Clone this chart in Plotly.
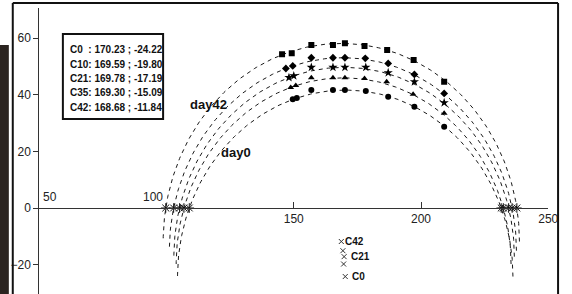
import numpy as np
import plotly.graph_objects as go

W, H = 572, 294

# ---- data ----
series_names = ["C0", "C10", "C21", "C35", "C42"]
center_x = [170.23, 169.59, 169.78, 169.30, 168.68]
center_y = [-24.22, -19.80, -17.19, -15.09, -11.84]
radius = [65.9, 65.8, 66.9, 68.2, 70.0]
symbols = ["circle", "triangle-up", "star", "diamond", "square"]

c0_x = [149.6, 151.2, 156.9, 165.4, 170.1, 178.3, 187.1, 197.4, 209.1]
c0_y = [38.4, 38.9, 41.7, 41.7, 41.7, 41.3, 39.3, 35.8, 28.7]
c10_x = [148.8, 150.8, 156.9, 165.4, 170.1, 177.8, 186.5, 196.9, 209.1]
c10_y = [42.6, 43.3, 46.0, 46.0, 46.0, 45.8, 44.6, 40.2, 33.5]
c21_x = [148.1, 150.0, 156.9, 165.4, 170.1, 178.3, 187.1, 197.4, 209.1]
c21_y = [46.1, 46.7, 49.7, 49.7, 49.7, 49.7, 47.8, 44.6, 37.2]
c35_x = [146.9, 149.6, 156.9, 165.4, 170.1, 178.1, 187.1, 197.4, 209.1]
c35_y = [49.3, 50.2, 53.1, 53.1, 53.1, 52.9, 51.1, 47.2, 40.5]
c42_x = [145.4, 149.2, 156.9, 165.4, 170.1, 177.8, 186.7, 197.1, 209.1]
c42_y = [54.3, 54.7, 57.6, 57.6, 58.2, 57.2, 55.8, 52.3, 44.6]

points_x = [c0_x, c10_x, c21_x, c35_x, c42_x]
points_y = [c0_y, c10_y, c21_y, c35_y, c42_y]

legend_lines = [
    "C0\u00a0\u00a0: 170.23 ; -24.22",
    "C10: 169.59 ; -19.80",
    "C21: 169.78 ; -17.19",
    "C35: 169.30 ; -15.09",
    "C42: 168.68 ; -11.84",
]
center_labels = {"C42": 4, "C21": 2, "C0": 0}

x_ticks = [150, 200, 250]
x_ticks_above = [50, 100]
y_ticks = [-20, 0, 20, 40, 60]

# ---- layout geometry (pixels) ----
x_dom = [40 / W, 558 / W]
x_rng = [50, 250]
y_top_px = 8
y_dom = [0, (H - y_top_px) / H]
px_per_y = 2.83
y_rng = [-(H - 208) / px_per_y, (208 - y_top_px) / px_per_y]
x_axis_pos = y_dom[1] * (0 - y_rng[0]) / (y_rng[1] - y_rng[0])

SANS = "Liberation Sans"


def px(x):
    return x / W


def py(y):
    return 1 - y / H


fig = go.Figure()

# fitted semicircles
for i, name in enumerate(series_names):
    th = np.linspace(0, np.pi, 241)
    fig.add_trace(go.Scatter(
        x=center_x[i] + radius[i] * np.cos(th),
        y=center_y[i] + radius[i] * np.sin(th),
        mode="lines",
        line=dict(color="#1a1a1a", width=1, dash="4px,4px"),
        hoverinfo="skip", showlegend=False))

# measured points
marker_sizes = {"circle": 6, "triangle-up": 6, "star": 7, "diamond": 6, "square": 6}
for i, name in enumerate(series_names):
    fig.add_trace(go.Scatter(
        x=points_x[i], y=points_y[i], mode="markers", name=name,
        marker=dict(symbol=symbols[i], size=marker_sizes[symbols[i]], color="#000"),
        showlegend=False))

# axis crossings of each circle
cross_x, cross_y = [], []
for i in range(len(series_names)):
    d = np.sqrt(radius[i] ** 2 - center_y[i] ** 2)
    cross_x += [center_x[i] - d, center_x[i] + d]
    cross_y += [0, 0]
fig.add_trace(go.Scatter(
    x=cross_x, y=cross_y, mode="markers",
    marker=dict(symbol="asterisk-open", size=8, color="#111",
                line=dict(width=1, color="#111")),
    showlegend=False, hoverinfo="skip"))

# centres
fig.add_trace(go.Scatter(
    x=center_x, y=center_y, mode="markers",
    marker=dict(symbol="x-thin", size=5, color="#333",
                line=dict(width=1, color="#333")),
    showlegend=False))

annotations = []
for lab, idx in center_labels.items():
    annotations.append(dict(
        x=center_x[idx], y=center_y[idx], xref="x", yref="y",
        text="<b>" + lab + "</b>", showarrow=False, xanchor="left", yanchor="middle",
        xshift=2 if lab == "C42" else 5,
        font=dict(family=SANS, size=10, color="#111"),
        ))

for v in x_ticks_above:
    annotations.append(dict(
        x=v, y=0, xref="x", yref="y", text=str(v), showarrow=False,
        xanchor="left" if v == 50 else "right", yanchor="bottom",
        xshift=2 if v == 50 else -2, yshift=2,
        font=dict(family=SANS, size=12, color="#222")))

annotations.append(dict(x=px(212), y=py(95), xref="paper", yref="paper",
                        text="<b>day42</b>", showarrow=False,
                        font=dict(family=SANS, size=13, color="#111")))
annotations.append(dict(x=px(240), y=py(152), xref="paper", yref="paper",
                        text="<b>day0</b>", showarrow=False,
                        font=dict(family=SANS, size=13, color="#111")))

line_py = [50, 64.3, 78.6, 92.9, 107.2]
for t, yy in zip(legend_lines, line_py):
    annotations.append(dict(
        x=px(69), y=py(yy), xref="paper", yref="paper", text="<b>" + t + "</b>",
        showarrow=False, xanchor="left", yanchor="middle",
        font=dict(family=SANS, size=10, color="#111")))

shapes = [
    # scan strip at the left edge
    dict(type="rect", xref="paper", yref="paper", x0=0, x1=px(9), y0=0, y1=py(45),
         fillcolor="#2b2420", line=dict(width=0), layer="below"),
    # outer frame
    dict(type="line", xref="paper", yref="paper", x0=px(13), x1=px(13), y0=0, y1=py(3),
         line=dict(color="#111", width=2)),
    dict(type="line", xref="paper", yref="paper", x0=px(13), x1=px(568), y0=py(3), y1=py(3),
         line=dict(color="#111", width=2)),
    dict(type="line", xref="paper", yref="paper", x0=px(568), x1=px(568), y0=0, y1=py(3),
         line=dict(color="#111", width=2)),
    # legend box
    dict(type="rect", xref="paper", yref="paper", x0=px(64), x1=px(166), y0=py(119), y1=py(34),
         fillcolor="white", line=dict(color="#111", width=2), layer="above"),
]

fig.update_layout(
    width=W, height=H,
    margin=dict(l=0, r=0, t=0, b=0),
    paper_bgcolor="white", plot_bgcolor="white",
    showlegend=False,
    xaxis=dict(domain=x_dom, range=x_rng, anchor="free", position=x_axis_pos,
               showgrid=False, zeroline=False, showline=True, linecolor="#333", linewidth=1,
               tickmode="array", tickvals=x_ticks, ticks="inside", ticklen=6,
               tickcolor="#333", tickfont=dict(family=SANS, size=12, color="#222")),
    yaxis=dict(domain=y_dom, range=y_rng, anchor="x",
               showgrid=False, zeroline=False, showline=True, linecolor="#333", linewidth=1,
               tickmode="array", tickvals=y_ticks, ticks="outside", ticklen=5,
               tickcolor="#333", tickfont=dict(family=SANS, size=12, color="#222")),
    annotations=annotations,
    shapes=shapes,
)

fig.write_html("out.html", config={"displayModeBar": False},
               post_script="document.body.style.margin='0';")
